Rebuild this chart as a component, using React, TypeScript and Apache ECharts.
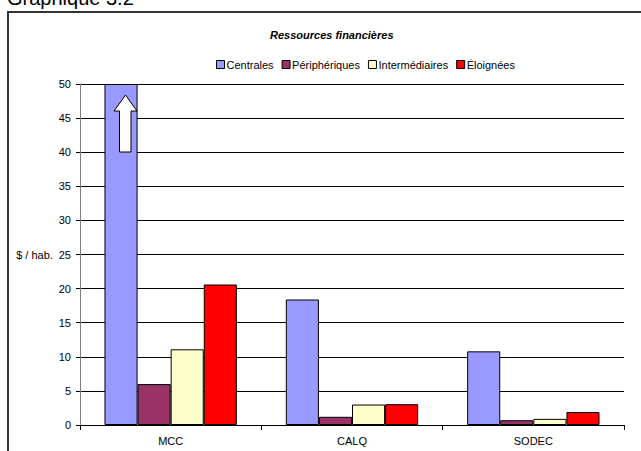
import React, { useEffect, useRef } from "react";
import * as echarts from "echarts";

const categories = ["MCC", "CALQ", "SODEC"];
const seriesNames = ["Centrales", "Périphériques", "Intermédiaires", "Éloignées"];
const centrales = [50, 18.4, 10.8];
const peripheriques = [6.0, 1.2, 0.7];
const intermediaires = [11.1, 3.0, 0.9];
const eloignees = [20.6, 3.05, 1.9];
const colors = ["#9999FF", "#993366", "#FFFFCC", "#FF0000"];

const FONT = "'Liberation Sans', Arial, sans-serif";

const App = () => {
  const chartRef = useRef<HTMLDivElement>(null);

  useEffect(() => {
    const chartDom = chartRef.current;
    if (!chartDom) return;
    const myChart = echarts.init(chartDom, null, { renderer: "svg" });

    const values = [centrales, peripheriques, intermediaires, eloignees];

    const option = {
      animation: false,
      backgroundColor: "#ffffff",
      textStyle: { fontFamily: FONT },
      title: {
        text: "Ressources financières",
        left: 265,
        top: 24,
        textStyle: {
          fontFamily: FONT,
          fontSize: 11,
          fontWeight: "bold",
          fontStyle: "italic",
          color: "#000",
        },
      },
      legend: {
        left: 211,
        top: 54,
        itemWidth: 8,
        itemHeight: 8,
        itemGap: 8,
        icon: "rect",
        data: seriesNames,
        itemStyle: { borderColor: "#000", borderWidth: 1 },
        textStyle: { fontFamily: FONT, fontSize: 11, color: "#000", padding: [0, 0, 0, -3] },
      },
      grid: { left: 80, top: 84, right: 17, bottom: 26, containLabel: false },
      xAxis: {
        type: "category",
        data: categories,
        axisLine: { lineStyle: { color: "#000", width: 1 } },
        axisTick: { show: true, length: 5, lineStyle: { color: "#000" } },
        axisLabel: { margin: 10, fontFamily: FONT, fontSize: 11, color: "#000" },
      },
      yAxis: {
        type: "value",
        min: 0,
        max: 50,
        interval: 5,
        name: "$ / hab.",
        nameLocation: "middle",
        nameRotate: 0,
        nameGap: 22,
        nameTextStyle: { fontFamily: FONT, fontSize: 11, color: "#000", align: "right" },
        axisLine: { show: true, lineStyle: { color: "#808080", width: 1 } },
        axisTick: { show: true, length: 4, lineStyle: { color: "#000" } },
        axisLabel: { margin: 9, fontFamily: FONT, fontSize: 11, color: "#000" },
        splitLine: { show: true, lineStyle: { color: "#000", width: 1 } },
      },
      series: seriesNames.map((name, i) => ({
        name,
        type: "bar",
        data: values[i],
        barGap: "0%",
        barCategoryGap: "27%",
        itemStyle: { color: colors[i], borderColor: "#000", borderWidth: 1 },
      })),
      graphic: [
        {
          type: "text",
          left: 7,
          top: -12,
          style: { text: "Graphique 3.2", font: `20px ${FONT}`, fill: "#000" },
        },
        {
          type: "rect",
          shape: { x: 8, y: 12, width: 660, height: 460 },
          style: { fill: "none", stroke: "#333", lineWidth: 2 },
          z: 100,
        },
        {
          type: "polygon",
          shape: {
            points: [
              [125.5, 95],
              [137, 111],
              [131, 111],
              [131, 152],
              [119.5, 152],
              [119.5, 111],
              [114, 111],
            ],
          },
          style: { fill: "#fff", stroke: "#000", lineWidth: 1 },
          z: 100,
        },
      ],
    };

    myChart.setOption(option);

    return () => {
      myChart.dispose();
    };
  }, []);

  return (
    <div
      ref={chartRef}
      style={{ position: "fixed", left: 0, top: 0, width: 641, height: 451 }}
    ></div>
  );
};

export default App;
